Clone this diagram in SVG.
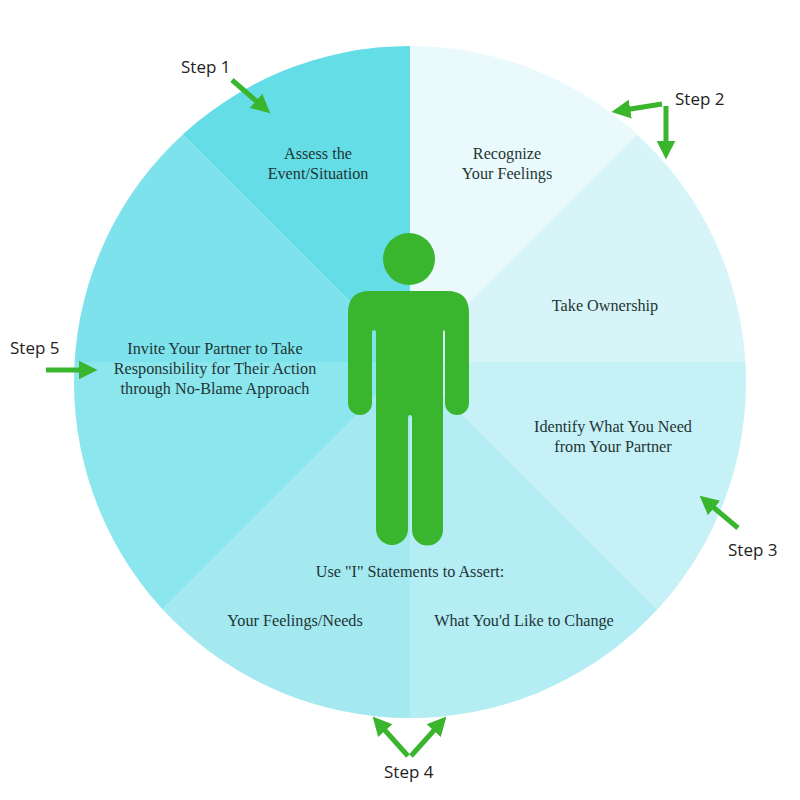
<svg xmlns="http://www.w3.org/2000/svg" width="800" height="800" viewBox="0 0 800 800">
  <style>
    .lbl { font-family: "Liberation Serif", "Times New Roman", serif; font-size: 16.2px; fill: #1f3636; text-anchor: middle; }
    .step { font-family: "Open Sans", "Liberation Sans", sans-serif; font-size: 17px; fill: #222222; }
    .arr { stroke: #3ab52e; stroke-width: 5; fill: none; marker-end: url(#head); }
  </style>
  <defs>
    <clipPath id="disc">
      <circle cx="410" cy="382" r="336"/>
    </clipPath>
    <marker id="head" viewBox="0 0 10 10" refX="4" refY="5" markerWidth="3.8" markerHeight="4.4" orient="auto" markerUnits="strokeWidth">
      <path d="M0,0 L10,5 L0,10 Z" fill="#3ab52e"/>
    </marker>
  </defs>
  <rect width="800" height="800" fill="#ffffff"/>

  <g id="wheel" clip-path="url(#disc)">
    <polygon id="sector-assess" points="410,362 410,-238 -14,-62" fill="#64dde6"/>
    <polygon id="sector-recognize" points="410,362 834,-62 410,-238" fill="#eafafc"/>
    <polygon id="sector-ownership" points="410,362 1010,362 834,-62" fill="#d7f5f8"/>
    <polygon id="sector-identify" points="410,362 834,786 1010,362" fill="#c6f1f6"/>
    <polygon id="sector-change" points="410,362 410,962 834,786" fill="#b4edf3"/>
    <polygon id="sector-needs" points="410,362 -14,786 410,962" fill="#a4e9f0"/>
    <polygon id="sector-invite-low" points="410,362 -190,362 -14,786" fill="#8ce6ee"/>
    <polygon id="sector-invite-up" points="410,362 -14,-62 -190,362" fill="#7de2eb"/>
  </g>

  <g id="person" fill="#3ab52e">
    <circle cx="409" cy="259" r="26"/>
    <path d="M348,313 Q348,291 370,291 L447,291 Q469,291 469,313 L469,403 A12,12 0 0 1 445,403 L445,333 Q445,330 444,330 Q443,330 443,333 L443,530 A15.5,15.5 0 0 1 412,530 L412,418 Q412,415 410,415 Q408,415 408,418 L408,529 A16,16 0 0 1 376,529 L376,333 Q376,330 374,330 Q372,330 372,333 L372,403 A12,12 0 0 1 348,403 Z"/>
  </g>

  <g id="node-assess">
    <text class="lbl" x="318" y="159">Assess the</text>
    <text class="lbl" x="318" y="179">Event/Situation</text>
  </g>
  <g id="node-recognize">
    <text class="lbl" x="507" y="159">Recognize</text>
    <text class="lbl" x="507" y="179">Your Feelings</text>
  </g>
  <g id="node-ownership">
    <text class="lbl" x="605" y="311">Take Ownership</text>
  </g>
  <g id="node-identify">
    <text class="lbl" x="613" y="432">Identify What You Need</text>
    <text class="lbl" x="613" y="452">from Your Partner</text>
  </g>
  <g id="node-assert">
    <text class="lbl" x="410" y="577">Use "I" Statements to Assert:</text>
    <text class="lbl" x="295" y="626">Your Feelings/Needs</text>
    <text class="lbl" x="524" y="626">What You'd Like to Change</text>
  </g>
  <g id="node-invite">
    <text class="lbl" x="215" y="354">Invite Your Partner to Take</text>
    <text class="lbl" x="215" y="374">Responsibility for Their Action</text>
    <text class="lbl" x="215" y="394">through No-Blame Approach</text>
  </g>

  <g id="step-labels">
    <text class="step" x="181" y="73">Step 1</text>
    <text class="step" x="675" y="105">Step 2</text>
    <text class="step" x="728" y="556">Step 3</text>
    <text class="step" x="384" y="778">Step 4</text>
    <text class="step" x="10" y="354">Step 5</text>
  </g>

  <g id="connectors">
    <line class="arr" x1="232" y1="80" x2="261.7" y2="105.8"/>
    <line class="arr" x1="662" y1="104" x2="622.7" y2="110.3"/>
    <line class="arr" x1="666" y1="106" x2="666" y2="148.2"/>
    <line class="arr" x1="738" y1="528" x2="708.3" y2="503"/>
    <line class="arr" x1="408" y1="756" x2="380.2" y2="725"/>
    <line class="arr" x1="411" y1="756" x2="438.8" y2="725"/>
    <line class="arr" x1="46" y1="370" x2="86.2" y2="370"/>
  </g>
</svg>
